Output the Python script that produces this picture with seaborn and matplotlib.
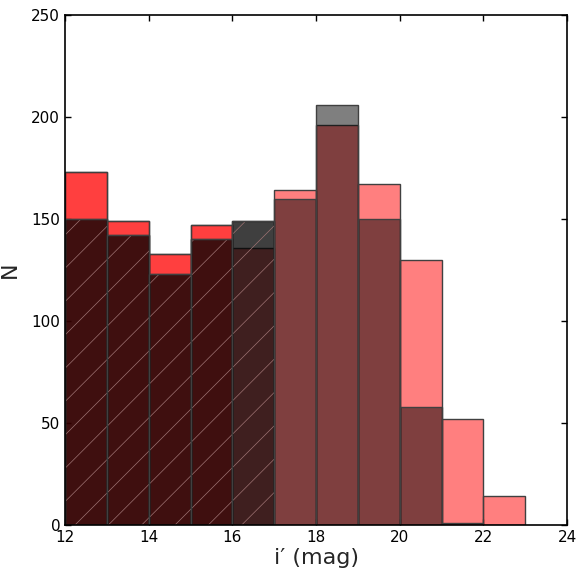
import matplotlib
matplotlib.use("Agg")
import matplotlib.pyplot as plt
import numpy as np
import seaborn as sns

# Bin edges (magnitude) and counts per unit-magnitude bin
bin_edges = [12, 13, 14, 15, 16, 17, 18, 19, 20, 21, 22, 23]
red_counts = [173, 149, 133, 147, 136, 164, 196, 167, 130, 52, 14]
black_counts = [150, 142, 123, 140, 149, 160, 206, 150, 58, 1, 0]

# Bright-end subsets that are emphasised with a second layer
red_bright_edges = [12, 13, 14, 15, 16]
black_bright_edges = [12, 13, 14, 15, 16, 17]

x_ticks = [12, 14, 16, 18, 20, 22, 24]
y_ticks = [0, 50, 100, 150, 200, 250]

sns.set_style("ticks")
plt.rcParams["font.family"] = ["DejaVu Sans"]
plt.rcParams["hatch.linewidth"] = 0.5

fig = plt.figure(figsize=(5.78, 5.72), dpi=100)
ax = fig.add_axes([0.1125, 0.0822, 0.8685, 0.8916])

centers = (np.array(bin_edges[:-1]) + 0.5)
n_red_b = len(red_bright_edges) - 1
n_blk_b = len(black_bright_edges) - 1
edge = "0.25"
hatch_rgb = (0.62, 0.45, 0.45, 1.0)

# Red sample: full histogram plus reinforced bright bins
sns.histplot(x=centers, weights=red_counts, bins=bin_edges, ax=ax,
             color="red", alpha=0.5, edgecolor=edge, linewidth=1.0)
sns.histplot(x=centers[:n_red_b], weights=red_counts[:n_red_b],
             bins=red_bright_edges, ax=ax,
             color="red", alpha=0.5, edgecolor=edge, linewidth=1.0)

# Black sample: full histogram plus hatched bright bins
sns.histplot(x=centers, weights=black_counts, bins=bin_edges, ax=ax,
             color="black", alpha=0.5, edgecolor=edge, linewidth=1.0)
n_before = len(ax.patches)
sns.histplot(x=centers[:n_blk_b], weights=black_counts[:n_blk_b],
             bins=black_bright_edges, ax=ax,
             color="black", alpha=0.5, edgecolor=edge, linewidth=1.0,
             hatch="/")
for p in ax.patches[n_before:]:
    if hasattr(p, "set_hatchcolor"):
        p.set_hatchcolor(hatch_rgb)
    else:
        p._hatch_color = hatch_rgb

ax.set_xlim(12, 24)
ax.set_ylim(0, 250)
ax.set_xticks(x_ticks)
ax.set_yticks(y_ticks)
ax.tick_params(direction="in", length=4, width=1, labelsize=11,
               top=True, right=True, colors="black")
for s in ax.spines.values():
    s.set_visible(True)
    s.set_linewidth(1.2)
    s.set_color("black")

ax.set_xlabel("i′ (mag)", fontsize=16, labelpad=2)
ax.set_ylabel("N", fontsize=16, labelpad=8)

fig.savefig("out.png", dpi=100)
